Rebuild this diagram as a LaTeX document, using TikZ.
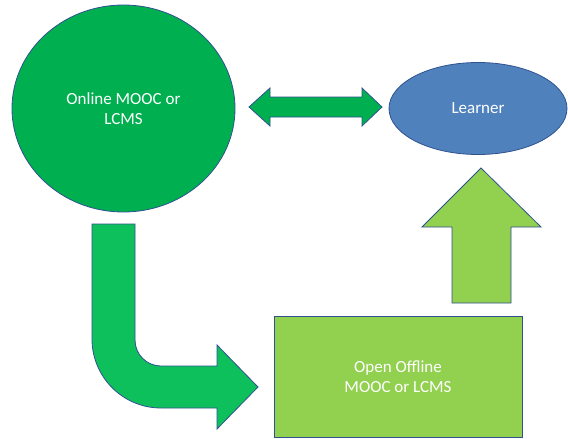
\documentclass[tikz,border=0pt]{standalone}
\usepackage{fontspec}
\setmainfont{Carlito}
\usetikzlibrary{shapes.geometric}
\definecolor{dkgreen}{RGB}{0,176,80}
\definecolor{midgreen}{RGB}{14,192,92}
\definecolor{ltgreen}{RGB}{146,208,80}
\definecolor{lblue}{RGB}{79,129,189}
\definecolor{edge}{RGB}{47,82,143}
\tikzset{
  shp/.style={draw=edge, line width=0.8pt, line join=miter},
  lbl/.style={text=white, font=\fontsize{17}{20.5}\selectfont, align=center},
}
\begin{document}
\begin{tikzpicture}[x=1pt,y=-1pt]
\useasboundingbox[fill=white] (0,0) rectangle (568,439);
% Online MOOC or LCMS
\node[shp, ellipse, fill=dkgreen, minimum width=223pt, minimum height=207pt, inner sep=0pt, lbl] (online) at (123.5,108.5) {Online MOOC or\\LCMS};
% Learner
\node[shp, ellipse, fill=lblue, minimum width=178pt, minimum height=92pt, inner sep=0pt, lbl] (learner) at (478,108.5) {Learner};
% Offline rectangle
\node[shp, rectangle, fill=ltgreen, minimum width=248pt, minimum height=121pt, inner sep=0pt, lbl] (offline) at (398,376.5) {Open Offline\\MOOC or LCMS};
% double arrow
\draw[shp, fill=dkgreen] (249,107) -- (270,88) -- (270,97) -- (362,97) -- (362,88) -- (382,107)
  -- (362,126) -- (362,117) -- (270,117) -- (270,126) -- cycle;
% up arrow
\draw[shp, fill=ltgreen] (452,303) -- (452,227) -- (422,227) -- (481,168) -- (541,227)
  -- (511,227) -- (511,303) -- cycle;
% bent arrow
\draw[shp, fill=midgreen] (92,224) -- (135,224) -- (135,340)
  .. controls (135,354.4) and (146.6,366) .. (161,366)
  -- (217,366) -- (217,345) -- (258,387) -- (217,429) -- (217,408) -- (161,408)
  .. controls (122.9,408) and (92,377.1) .. (92,339) -- cycle;
\end{tikzpicture}
\end{document}
